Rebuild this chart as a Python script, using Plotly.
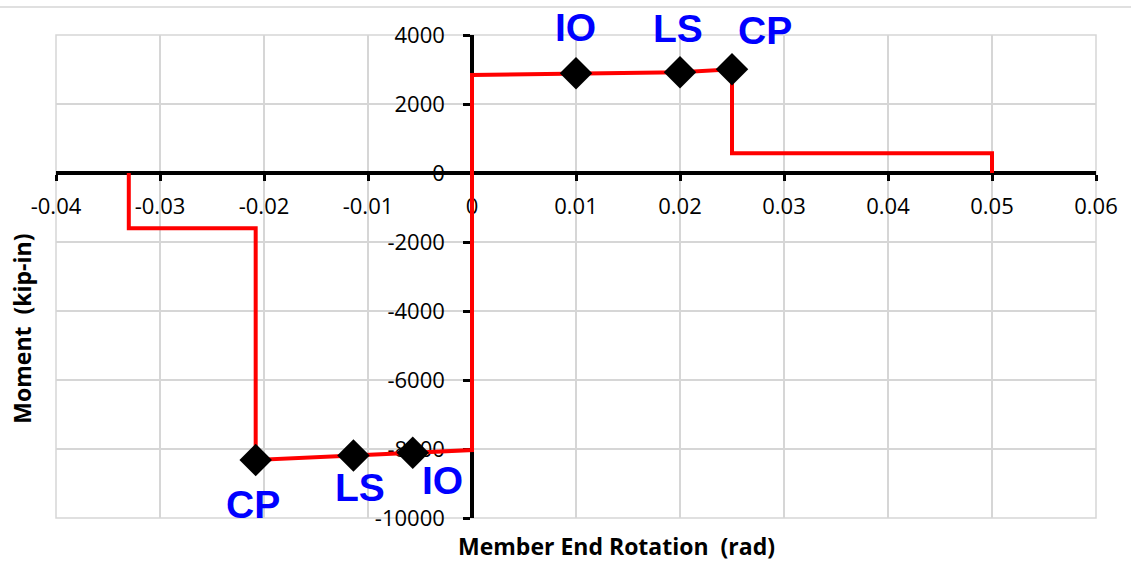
import plotly.graph_objects as go

# Moment-rotation backbone (rotation in rad, moment in kip-in)
rotation = [-0.033, -0.033, -0.0208, -0.0208, -0.0114, -0.0057, 0.0, 0.0,
            0.01, 0.02, 0.025, 0.025, 0.05, 0.05]
moment = [0, -1600, -1600, -8320, -8190, -8110, -8030, 2840,
          2890, 2920, 3005, 570, 570, 0]

# Performance levels
pos_level_x = [0.01, 0.02, 0.025]
pos_level_y = [2890, 2920, 3005]
neg_level_x = [-0.0057, -0.0114, -0.0208]
neg_level_y = [-8110, -8190, -8320]
level_names = ["IO", "LS", "CP"]

x_ticks = [-0.04, -0.03, -0.02, -0.01, 0.0, 0.01, 0.02, 0.03, 0.04, 0.05, 0.06]
x_tick_text = ["-0.04", "-0.03", "-0.02", "-0.01", "0", "0.01", "0.02",
               "0.03", "0.04", "0.05", "0.06"]
y_ticks = [-10000, -8000, -6000, -4000, -2000, 0, 2000, 4000]
y_tick_text = ["-10000", "-8000", "-6000", "-4000", "-2000", "0", "2000", "4000"]

x_min, x_max = -0.04, 0.06
y_min, y_max = -10000, 4000
grid_color = "#d6d6d6"

fig = go.Figure()
fig.add_trace(go.Scatter(
    x=rotation, y=moment, mode="lines",
    line=dict(color="#ff0000", width=4),
    hoverinfo="skip", showlegend=False,
))
fig.add_trace(go.Scatter(
    x=pos_level_x + neg_level_x, y=pos_level_y + neg_level_y, mode="markers",
    marker=dict(symbol="diamond", size=25, color="black", line=dict(width=0)),
    showlegend=False,
))

# Level labels (pixel offsets from each marker)
pos_shift = [(-1, 46), (-2, 44), (33, 39)]
neg_shift = [(30, -28), (7, -32), (-3, -44)]
label_font = dict(family="Liberation Sans", size=39, color="#0000ff")
for name, x, y, (dx, dy) in zip(level_names, pos_level_x, pos_level_y, pos_shift):
    fig.add_annotation(x=x, y=y, text=f"<b>{name}</b>", showarrow=False,
                       xshift=dx, yshift=dy, font=label_font)
for name, x, y, (dx, dy) in zip(level_names, neg_level_x, neg_level_y, neg_shift):
    fig.add_annotation(x=x, y=y, text=f"<b>{name}</b>", showarrow=False,
                       xshift=dx, yshift=dy, font=label_font)

title_font = dict(family="Open Sans", size=23, color="black")
fig.add_annotation(xref="paper", yref="paper", x=0.5385, y=-0.058,
                   text="<b>Member End Rotation  (rad)</b>", showarrow=False,
                   xanchor="center", yanchor="middle", font=title_font)
fig.add_annotation(xref="paper", yref="paper", x=-0.0327, y=0.392,
                   text="<b>Moment  (kip-in)</b>", showarrow=False, textangle=-90,
                   xanchor="center", yanchor="middle", font=title_font)

# outer frame of the plotting area
fig.add_shape(type="rect", xref="paper", yref="paper",
              x0=0, x1=1, y0=0, y1=1, layer="below",
              line=dict(color=grid_color, width=1.5))
# thin rule across the top of the chart area
fig.add_shape(type="line", xref="paper", yref="paper",
              x0=-0.06, x1=1.04, y0=1.058, y1=1.058,
              line=dict(color=grid_color, width=1.5))

tick_font = dict(family="Open Sans", size=22, color="black")
eps_x = 1e-9
fig.update_layout(
    width=1131, height=563,
    margin=dict(l=56, r=35, t=35, b=45),
    paper_bgcolor="white", plot_bgcolor="white",
    xaxis=dict(
        range=[x_min - eps_x, x_max + eps_x],
        tickmode="array", tickvals=x_ticks, ticktext=x_tick_text,
        showgrid=True, gridcolor=grid_color, gridwidth=1.5,
        zeroline=False, showline=True, linecolor="black", linewidth=3.5,
        ticks="outside", ticklen=6, tickwidth=3, tickcolor="black",
        anchor="free", position=(0 - y_min) / (y_max - y_min),
        layer="below traces", tickfont=tick_font, ticklabelstandoff=7,
    ),
    yaxis=dict(
        range=[y_min - 1e-3, y_max + 1e-3],
        tickmode="array", tickvals=y_ticks, ticktext=y_tick_text,
        showgrid=True, gridcolor=grid_color, gridwidth=1.5,
        zeroline=False, showline=True, linecolor="black", linewidth=3.5,
        ticks="outside", ticklen=7, tickwidth=3, tickcolor="black",
        anchor="free", position=(0 - x_min) / (x_max - x_min),
        layer="below traces", tickfont=tick_font, ticklabelstandoff=14,
    ),
)

fig.write_html("out.html")
